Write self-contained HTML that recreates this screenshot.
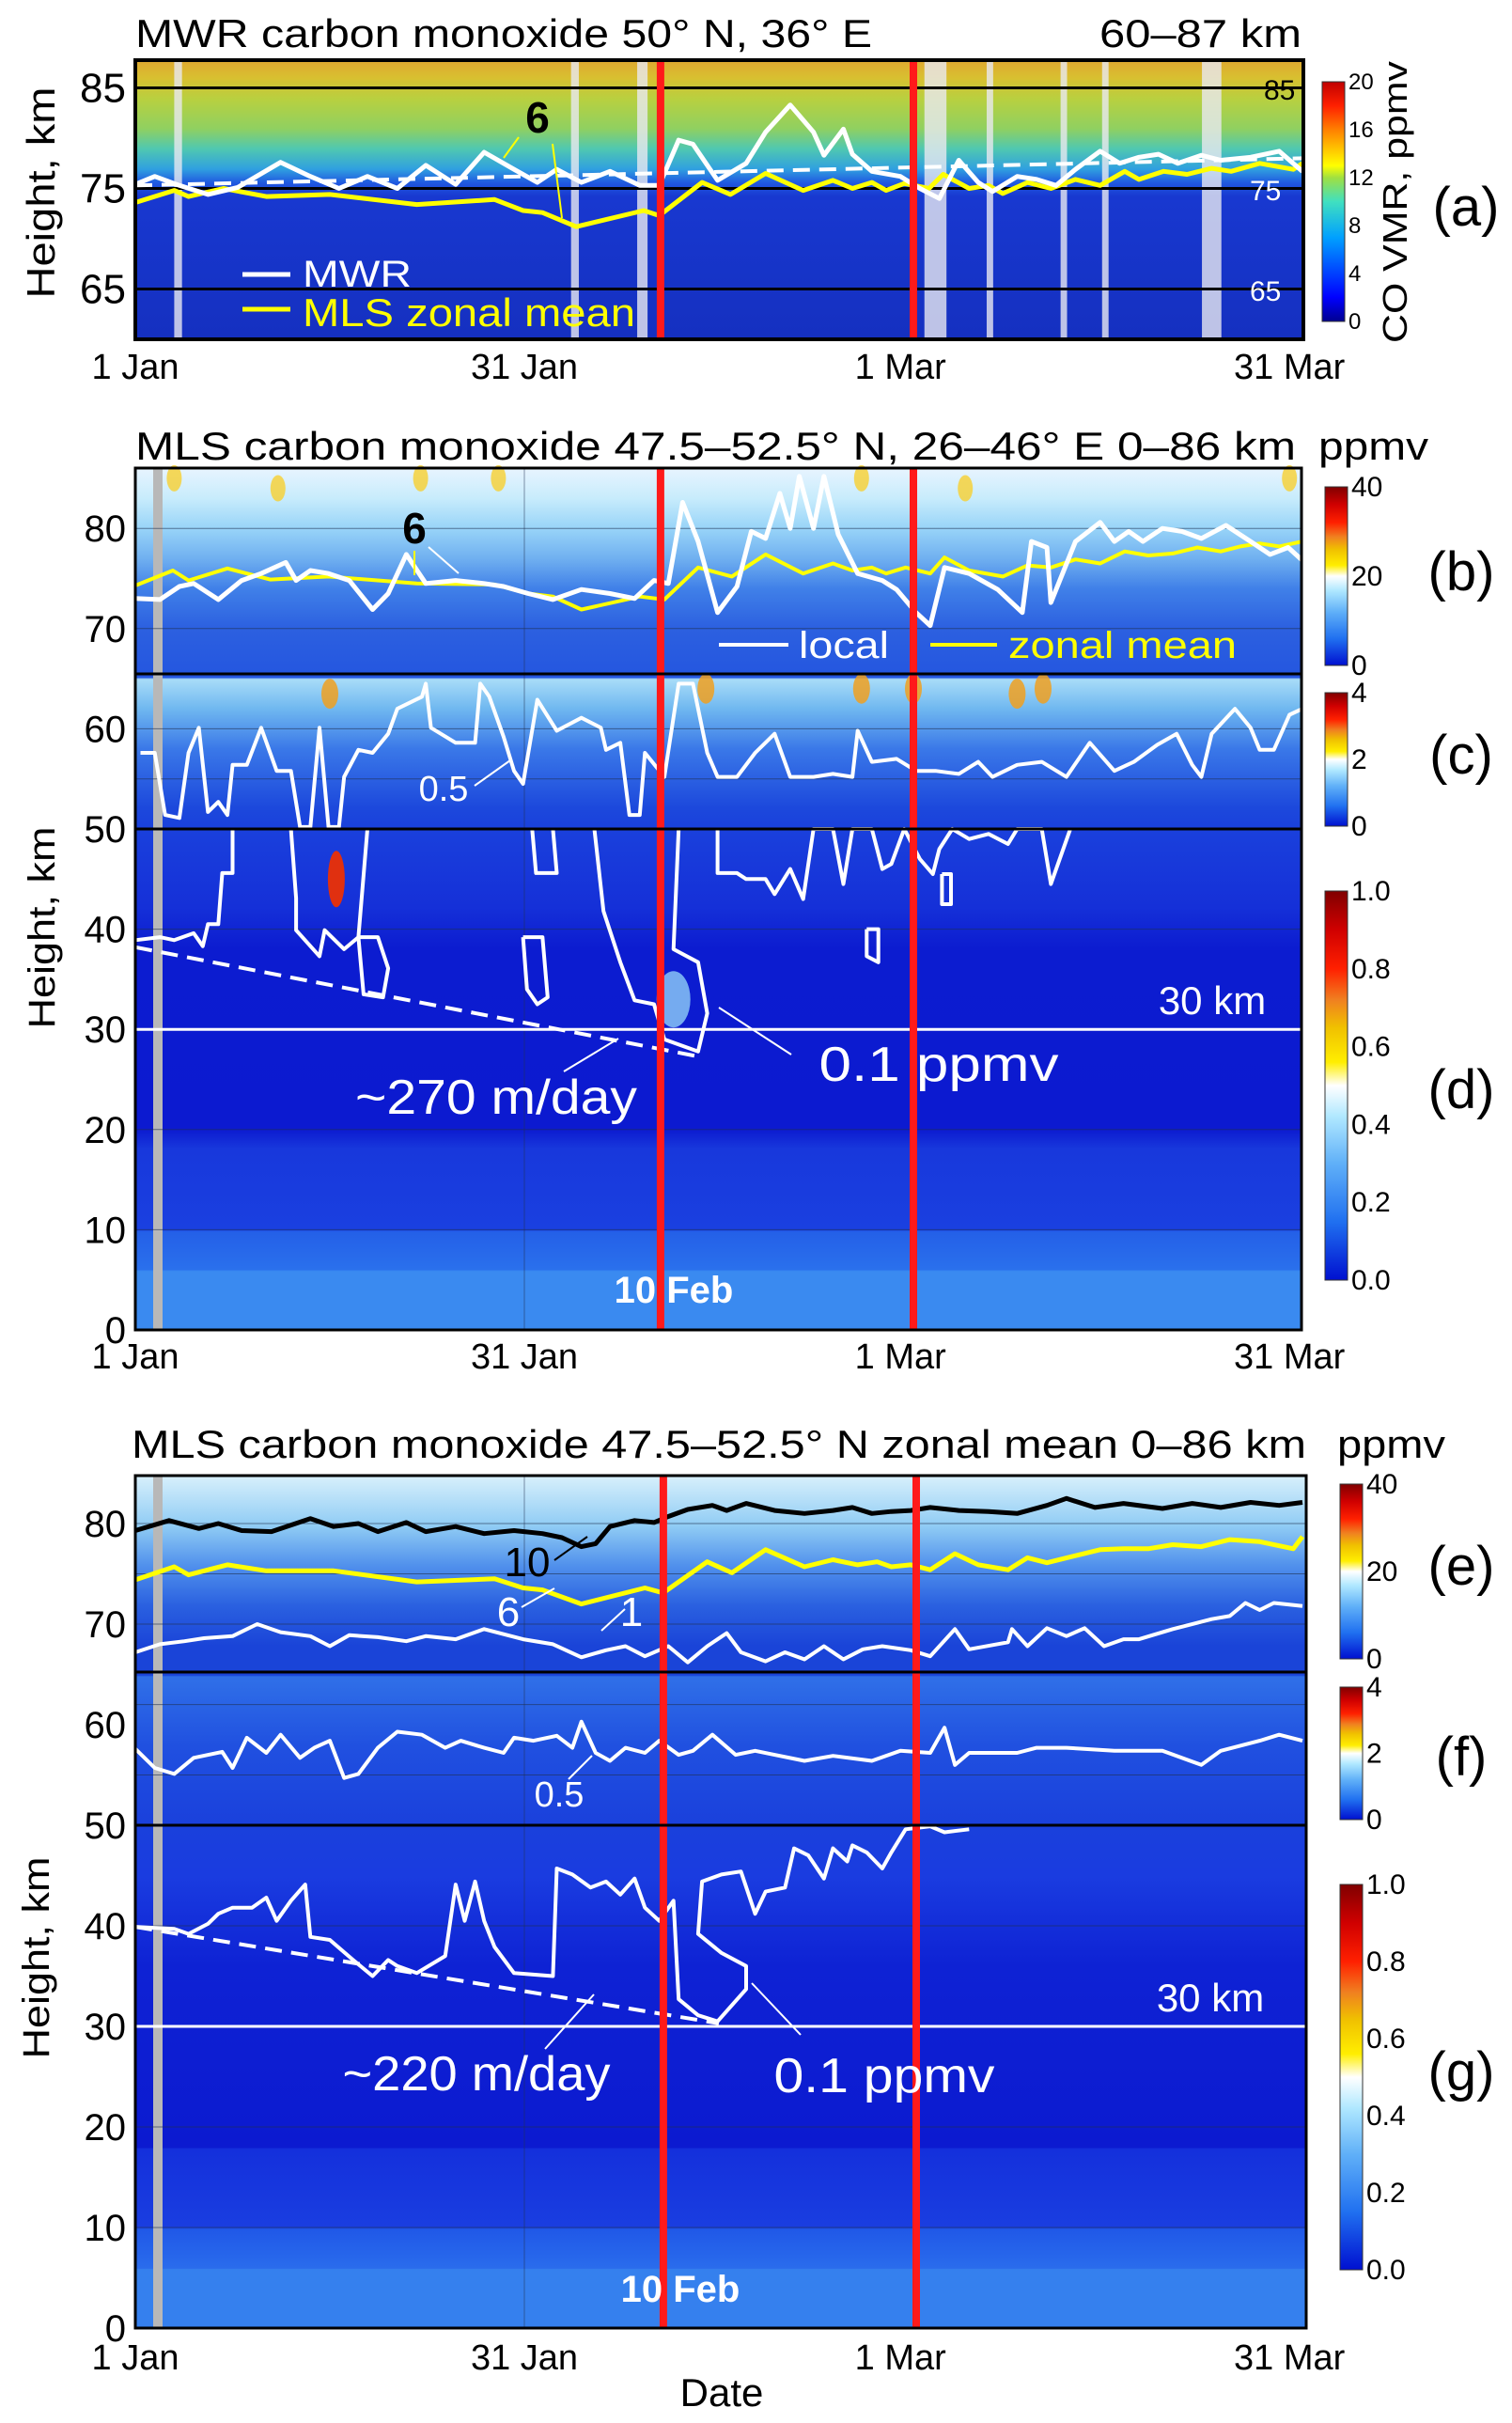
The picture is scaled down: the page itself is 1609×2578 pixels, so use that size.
<!DOCTYPE html>
<html><head><meta charset="utf-8">
<style>
html,body{margin:0;padding:0;background:#fff;}
svg{display:block;}
text{font-family:"Liberation Sans Narrow","Liberation Sans",sans-serif;}
.w{font-family:"Liberation Sans",sans-serif;}
</style></head>
<body>
<svg id="fig" width="1609" height="2578" viewBox="0 0 1609 2578" xmlns="http://www.w3.org/2000/svg">
<defs>
<linearGradient id="gA" x1="0" y1="0" x2="0" y2="1">
<stop offset="0" stop-color="#e0a830"/><stop offset="0.065" stop-color="#d8c030"/><stop offset="0.14" stop-color="#b8d040"/><stop offset="0.245" stop-color="#90d060"/><stop offset="0.317" stop-color="#50c8b0"/><stop offset="0.39" stop-color="#30a0e0"/><stop offset="0.44" stop-color="#2058e0"/><stop offset="0.49" stop-color="#1838d0"/><stop offset="1" stop-color="#1530c0"/>
</linearGradient>
<linearGradient id="gBD" x1="0" y1="0" x2="0" y2="1">
<stop offset="0" stop-color="#e8f4ff"/><stop offset="0.035" stop-color="#c8ecfc"/><stop offset="0.07" stop-color="#98d4f8"/><stop offset="0.105" stop-color="#70b0f0"/><stop offset="0.14" stop-color="#4080e8"/><stop offset="0.186" stop-color="#2c60e0"/><stop offset="0.243" stop-color="#2456e0"/><stop offset="0.245" stop-color="#a8dcf8"/><stop offset="0.279" stop-color="#70b8f0"/><stop offset="0.326" stop-color="#3a78e8"/><stop offset="0.395" stop-color="#1c48dc"/><stop offset="0.42" stop-color="#1a40dc"/><stop offset="0.51" stop-color="#1530d8"/><stop offset="0.558" stop-color="#0c1cd0"/><stop offset="0.767" stop-color="#0c1ad0"/><stop offset="0.79" stop-color="#1838dc"/><stop offset="0.884" stop-color="#1a40e0"/><stop offset="0.886" stop-color="#2460e8"/><stop offset="0.93" stop-color="#2a70ec"/><stop offset="0.932" stop-color="#3a8af0"/><stop offset="1" stop-color="#3a8af0"/>
</linearGradient>
<linearGradient id="gEG" x1="0" y1="0" x2="0" y2="1">
<stop offset="0" stop-color="#d8f0fc"/><stop offset="0.059" stop-color="#90ccf4"/><stop offset="0.106" stop-color="#5090ec"/><stop offset="0.153" stop-color="#2a60e0"/><stop offset="0.2" stop-color="#1a44d8"/><stop offset="0.234" stop-color="#1a44d8"/><stop offset="0.236" stop-color="#3070e8"/><stop offset="0.318" stop-color="#2050e0"/><stop offset="0.412" stop-color="#1a40dc"/><stop offset="0.47" stop-color="#1a3ce0"/><stop offset="0.576" stop-color="#0e22d4"/><stop offset="0.788" stop-color="#0c1ad0"/><stop offset="0.79" stop-color="#1430dc"/><stop offset="0.882" stop-color="#1a3ee0"/><stop offset="0.884" stop-color="#2058e8"/><stop offset="0.93" stop-color="#2a6cec"/><stop offset="0.931" stop-color="#3580ee"/><stop offset="1" stop-color="#3580ee"/>
</linearGradient>
<linearGradient id="cbJet" x1="0" y1="1" x2="0" y2="0">
<stop offset="0" stop-color="#000090"/><stop offset="0.1" stop-color="#0000ff"/><stop offset="0.35" stop-color="#00a0ff"/><stop offset="0.5" stop-color="#40e0c0"/><stop offset="0.6" stop-color="#a0e040"/><stop offset="0.65" stop-color="#ffff00"/><stop offset="0.8" stop-color="#ff8000"/><stop offset="0.9" stop-color="#ff2000"/><stop offset="1" stop-color="#c00000"/>
</linearGradient>
<linearGradient id="cbW" x1="0" y1="1" x2="0" y2="0">
<stop offset="0" stop-color="#0010d0"/><stop offset="0.15" stop-color="#2070f0"/><stop offset="0.3" stop-color="#60b0f8"/><stop offset="0.42" stop-color="#b0e8ff"/><stop offset="0.5" stop-color="#ffffff"/><stop offset="0.56" stop-color="#ffee00"/><stop offset="0.65" stop-color="#f0c000"/><stop offset="0.72" stop-color="#f08020"/><stop offset="0.8" stop-color="#ff2000"/><stop offset="0.9" stop-color="#d00000"/><stop offset="1" stop-color="#800000"/>
</linearGradient>
</defs>
<g id="layer"></g>
</svg>
<script>
// ---------- data (day of year from 1 Jan = 0, height km) ----------
const tickDays = [0, 30, 59, 89];
const tickLabels = ["1 Jan", "31 Jan", "1 Mar", "31 Mar"];
const redDays = [40.5, 60];
const aStripeDays = [3.3, 33.9, 39.1, 61.7, 65.9, 71.6, 74.8, 83];
const aStripeSpan = [0.6, 0.6, 0.8, 1.7, 0.5, 0.5, 0.5, 1.5];
const aMwrDay = [0,1.5,3.4,5.6,7.9,11.2,13.5,15.7,17.9,20.2,22.4,24.7,26.9,29.2,31,32.5,34.4,36.6,38.9,40.4,41.9,43,44.9,47.1,48.6,50.5,52.3,53.1,54.6,55.3,56.8,59,60.5,62,63.5,65,66.1,68,69.5,71,72.5,74.4,75.9,77.4,78.9,80.4,82.2,83.7,86,88.2,90];
const aMwrKm = [75.4,76.2,75.3,74.4,75.1,77.6,76.2,75,76.2,75,77.3,75.4,78.6,76.9,75.6,76.9,75.6,76.7,75.3,75.3,79.8,79.4,75.8,77.5,80.6,83.3,80.6,78.3,80.9,78.4,76.7,76.2,75,74,77.8,75.6,74.7,76.2,75.9,75.3,76.9,78.7,77.5,78.1,78.4,77.5,78.3,77.8,78.1,78.7,76.7];
const aMlsDay = [0,3,4.1,6.8,10.1,15,21.7,27.7,29.9,31.4,34,39.2,40.4,43.7,45.9,48.6,51.5,53.8,55.3,56.8,57.9,59.3,61.2,62.3,64.3,65.8,66.9,68.8,70.6,72.5,74.4,76.3,77.4,79.3,81.1,83,84.5,86.7,89.3,90];
const aMlsKm = [73.6,74.8,74.2,75,74.2,74.4,73.4,73.9,72.8,72.6,71.2,72.8,72.3,75.6,74.4,76.5,74.8,75.8,75,75.6,74.8,75.5,75,76.4,75,75.3,74.5,75.6,75,75.9,75.3,76.7,75.9,76.7,76.4,77,76.7,77.5,76.9,77.5];
const aDashDay = [0, 90];
const aDashKm = [75.3, 78.0];

const bLocalDay = [0,1.9,3.4,4.5,6.4,8.2,9.7,11.6,12.4,13.5,14.9,16.5,18.3,19.5,20.9,22.4,24.7,26.9,28.4,30.3,32.2,34.4,36.6,38.5,40,41.1,42.2,43.4,44.9,46.4,47.5,48.6,49.7,50.5,51.2,52.3,53.1,54.2,55.7,57.6,58.7,60.2,61.3,62.4,64.3,66.5,68.4,69.1,70.3,70.6,72.5,74.4,75.5,76.6,77.7,79.2,80.7,82.2,84.1,86,87.5,88.9,90];
const bLocalKm = [73,72.9,74.2,74.5,72.9,74.8,75.5,76.6,74.8,75.8,75.5,74.8,71.9,73.5,77.4,74.5,74.8,74.5,74.2,73.5,72.9,73.9,73.5,73,74.8,74.5,82.6,78.7,71.6,74.2,79.7,79,83.5,80,85.2,80,85.2,79.4,75.5,74.8,73.9,71.6,70.3,76.1,75.5,73.9,71.6,78.7,78.1,72.6,78.7,80.6,78.7,79.7,78.7,80,79.7,79,80.3,78.7,77.4,78.1,76.8];
const bZonalDay = [0,2.9,4.1,7.1,10.4,14.9,21.7,27.7,30.3,32.2,34.4,38.9,40.8,43.4,46,48.6,51.5,53.8,55.3,56.8,57.9,59.4,61.3,62.4,64.3,66.9,68.8,70.6,72.5,74.4,76.3,78.1,80,81.9,83.7,85.2,86.7,88.2,90];
const bZonalKm = [74.3,75.8,74.8,76,74.9,75.2,74.5,74.4,73.5,73.2,71.9,73.2,72.9,76.1,75.2,77.4,75.5,76.5,75.8,76.1,75.5,76.1,75.5,77.1,75.8,75.2,76.3,76.1,76.9,76.5,77.7,77.3,77.5,78.1,77.7,78.2,78.5,78.2,78.7];

const cContDay = [0.4,1.5,2.3,3.4,4.1,4.9,5.6,6.4,7.1,7.5,8.6,9.7,10.9,12,12.7,13.5,14.2,14.9,15.7,16.1,17.2,18.3,19.5,20.2,22.1,22.4,22.8,24.7,26.2,26.6,27.3,28.4,29.2,29.9,31,32.5,34.4,35.9,36.3,37.4,38.1,38.9,39.3,40.8,41.9,43,44.1,44.9,46.4,47.8,49.3,50.5,52.3,53.8,55.3,55.7,56.8,58.7,60.2,61.7,63.5,65,66.1,68,69.9,71.8,73.6,75.5,77,78.8,80.3,81.5,82.2,83,84.8,86,86.7,87.8,89,90];
const cContKm = [57.6,57.6,51.4,51.1,57.6,60.1,51.7,52.7,51.4,56.4,56.4,60.1,55.8,55.8,50.2,50.2,60.1,50.2,50.2,55.2,57.9,57.6,59.5,62,63.2,64.5,60.1,58.6,58.6,64.5,63.2,59.2,55.8,54.5,62.9,59.8,61.1,60.1,57.9,58.6,51.4,51.4,57.6,55.2,64.5,64.5,57.6,55.2,55.2,57.6,59.5,55.2,55.2,55.5,55.2,59.8,56.7,57,55.8,55.8,55.5,56.7,55.2,56.4,56.7,55.2,58.6,55.8,56.7,58.4,59.5,56.4,55.2,59.5,62,60.1,57.9,57.9,61.4,62];

const d1Day = [0,1.9,3,4.5,5.2,5.6,6.4,6.7,7.5,7.5];
const d1Km = [38.9,39.2,38.9,39.6,38.3,40.5,40.5,45.6,45.6,50];
const d2Day = [12,12.4,12.4,14.2,14.6,16.1,17.2,17.9];
const d2Km = [50,43.1,39.9,37.3,39.9,38,39.2,50];
const d3Day = [17.2,17.6,19.1,19.5,18.7,17.2];
const d3Km = [39.2,33.5,33.2,36.1,39.2,39.2];
const d4Day = [30.6,30.9,32.5,32.2];
const d4Km = [50,45.6,45.6,50];
const d5Day = [29.9,30.2,31,31.8,31.4,29.9];
const d5Km = [39.2,34,32.5,33.2,39.2,39.2];
const d6Day = [35.4,36.1,37.4,38.5,40,40.8,43.4,44.1,43.4,41.5,41.9];
const d6Km = [50,41.8,36.7,32.9,32.5,29,27.8,31.6,36.7,38,50];
const d7Day = [44.9,44.9,46.4,47.1,48.6,49.3,50.5,51.5,52.3,53.8,54.6,55.3,56.8,57.6,58.3,59.3,60.5,61.5,62,63,64.3,65.8,67.3,68,69.9,70.6,72.1];
const d7Km = [50,45.6,45.6,45,45,43.5,46,43,50,50,44.5,50,50,46,46.5,50,47,45.5,48,50,49,49.5,48.5,50,50,44.5,50];
const d8Day = [56.4,56.4,57.3,57.3,56.4];
const d8Km = [40,37.3,36.7,40,40];
const d9Day = [62.2,62.2,62.9,62.9,62.2];
const d9Km = [45.5,42.5,42.5,45.5,45.5];
const dDashDay = [0, 43.4];
const dDashKm = [38.2, 27.3];

const eTenDay = [0,2.6,4.9,6.4,8.2,10.5,13.5,15.3,17.2,18.7,20.9,22.4,24.7,26.9,29.2,31.4,32.9,34.4,35.5,36.6,38.5,40,41.1,42.6,44.5,45.6,47.1,49.3,51.6,53.8,55.3,56.8,58.3,59.8,61.3,63.5,65.8,68,70.3,71.8,74,76.2,79.2,81.5,83.7,86,88.2,90];
const eTenKm = [79.3,80.3,79.5,80,79.3,79.2,80.5,79.7,80,79.2,80.1,79.2,79.7,79,79.3,79,78.6,77.7,78,79.7,80.3,80.1,80.7,81.4,81.8,81.3,82,81.3,81,81.3,81.6,81,81.2,81.3,81.6,81.3,81.2,81,81.8,82.5,81.6,82,81.5,82,81.6,82.1,81.8,82.1];
const eSixDay = [0,3,4.1,7.1,10.1,15.3,21.7,27.7,29.9,31.4,34.4,39.3,40.7,44.1,46,48.6,51.6,53.8,55.7,57.2,58.3,59.8,61.3,63.2,65,67.3,68.8,70.3,72.5,74.4,76.2,78.1,80,82.2,84.4,86.7,89.3,90];
const eSixKm = [74.4,75.7,74.9,75.9,75.3,75.3,74.2,74.5,73.6,73.4,72,73.6,73.1,76.2,75.1,77.4,75.7,76.4,75.9,76.2,75.7,75.9,75.4,77,75.9,75.4,76.6,76.1,76.8,77.4,77.5,77.5,77.9,77.7,78.4,78.2,77.5,78.7];
const eOneDay = [0,1.9,3.8,5.3,7.5,9.4,11.2,13.5,15,16.5,18.7,20.9,22.4,24.7,26.9,29.9,32.2,34.4,36.3,37.8,39.3,41.1,42.6,44.1,45.6,46.7,48.6,50.1,51.6,53.1,54.6,56.1,57.6,59.8,61.3,63.2,64.3,67.3,67.6,68.8,70.3,71.8,73.2,74.7,76.2,77.4,80,83,84.4,85.6,86.7,87.8,90];
const eOneKm = [67.2,68,68.3,68.6,68.8,70,69.2,68.8,67.8,68.9,68.7,68.3,68.8,68.5,69.5,68.5,68,66.7,67.4,67.8,66.8,67.8,66.2,67.8,69.1,67.2,66.3,67.2,66.5,67.8,66.5,67.5,67.8,67.4,66.8,69.5,67.5,68.2,69.5,67.8,69.6,68.8,69.6,67.8,68.5,68.5,69.5,70.5,70.8,72.1,71.4,72.1,71.8];

const fDay = [0,1.5,3,4.5,6.7,7.5,8.6,10.1,11.2,12.7,13.8,15,16.1,17.2,18.7,20.2,22.1,23.9,25.1,26.9,28.4,29.2,30.7,32.5,33.7,34.4,35.5,36.6,37.8,39.3,40.4,41.9,43,44.5,46.3,47.8,49.3,51.6,53.8,56.8,59,61.3,62.4,63.2,64.3,68,69.5,71.8,75.5,79.2,82.2,83.7,86.7,88.2,90];
const fKm = [57.6,55.7,55.1,56.7,57.3,55.7,58.7,57.2,59,56.7,57.7,58.4,54.7,55.1,57.7,59.3,59,57.7,58.4,57.7,57.2,58.7,58.4,58.9,57.7,60.3,57.2,56.4,57.7,57.2,58.4,57,57.4,59,57,57.4,57,56.4,56.9,56.4,57.4,57.2,59.7,56,57.2,57.2,57.7,57.7,57.4,57.4,56,57.4,58.4,59,58.4];

const gDay = [0,3,4.1,5.6,6.4,7.5,9,10.1,10.9,12,13.1,13.5,15,16.8,18.3,19.5,20.2,21.7,23.9,24.7,25.4,26.2,26.9,27.7,29.2,32.2,32.5,33.7,35.1,36.3,37.4,38.5,39.3,40.4,41.5,41.9,43.4,44.9,47.1,47.1,45.2,43.4,43.7,45.2,46.7,47.8,48.6,50.1,50.8,51.9,53.1,53.8,54.9,55.3,56.4,57.6,58.3,59.4,61.3,62.4,64.3];
const gKm = [39.9,39.7,39.2,40.2,41.2,41.8,41.8,42.8,40.5,42.5,44.1,38.9,38.6,36.6,35,36.6,36,35.3,37,44.1,40.5,44.4,40.5,37.9,35.3,35,45.7,45.1,43.8,44.4,43.1,44.7,41.8,40.5,42.5,32.7,31.1,30.5,33.7,36,37.3,39.2,44.4,45.1,45.4,41.2,43.4,43.8,47.7,47,44.7,47.7,46.4,48,47.3,45.7,47.3,49.6,49.9,49.3,49.6];
const gDashDay = [0, 45];
const gDashKm = [39.9, 30.3];

// ---------- scales ----------
const NS = "http://www.w3.org/2000/svg";
const layer = document.getElementById("layer");
const X0 = 144, PXD = 13.8;
function xS(d){ return X0 + d*PXD; }
function yA(k){ return 361 - (k-60)*10.7; }
function yBD(k){ return 1415 - k*10.66; }
function yEG(k){ return 2477 - k*10.7; }
function el(tag, attrs, parent){
  const e = document.createElementNS(NS, tag);
  for (const k in attrs) e.setAttribute(k, attrs[k]);
  (parent||layer).appendChild(e);
  return e;
}
function txt(str, attrs, parent){ const t = el("text", attrs, parent); t.textContent = str; return t; }
function pts(days, kms, ys){ return days.map((d,i)=> xS(d).toFixed(1)+","+ys(kms[i]).toFixed(1)).join(" "); }
function line(days, kms, ys, stroke, w, name, dash){
  const p = el("polyline", {points: pts(days,kms,ys), fill:"none", stroke:stroke, "stroke-width":w, "stroke-linejoin":"round"});
  if (dash) p.setAttribute("stroke-dasharray", dash);
  
  
  return p;
}

// ---------- panel (a) ----------
let r = el("rect", {x:144, y:64, width:1243, height:297, fill:"url(#gA)"});


aStripeDays.forEach((d,i)=>{
  const w = aStripeSpan[i]*PXD;
  const s = el("rect", {x:xS(d)-w/2, y:64, width:w, height:297, fill:"#e8e8f0", opacity:0.8});
  
  
});
[85,75,65].forEach(k=>{
  const l = el("line", {x1:144, x2:1387, y1:yA(k), y2:yA(k), stroke:"#000", "stroke-width":3});
  
  
});
line(aDashDay, aDashKm, yA, "#fff", 4, "mwr-mean-dashed", "18,10");
line(aMlsDay, aMlsKm, yA, "#ffff00", 5, "mls-zonal-mean-line");
line(aMwrDay, aMwrKm, yA, "#fff", 5, "mwr-line");
redDays.forEach(d=>{ const l=el("line",{x1:xS(d),x2:xS(d),y1:64,y2:361,stroke:"#ff1a1a","stroke-width":8});   });
r = el("rect",{x:144,y:64,width:1243,height:297,fill:"none",stroke:"#000","stroke-width":4});
 

// ---------- panels (b,c,d) ----------
r = el("rect", {x:144, y:498, width:1241, height:917, fill:"url(#gBD)"});


[[3,85],[11,84],[22,85],[28,85],[56,85],[64,84],[89,85]].forEach(h=>{
  const e=el("ellipse",{cx:xS(h[0]),cy:yBD(h[1]),rx:8,ry:14,fill:"#f8d030",opacity:0.8});
   
});
[[15,63.5],[44,64],[56,64],[60,64],[68,63.5],[70,64]].forEach(h=>{
  const e=el("ellipse",{cx:xS(h[0]),cy:yBD(h[1]),rx:9,ry:16,fill:"#f0a020",opacity:0.85});
   
});
let hs=el("ellipse",{cx:xS(15.5),cy:yBD(45),rx:9,ry:30,fill:"#e03010"});  
hs=el("ellipse",{cx:xS(41.5),cy:yBD(33),rx:18,ry:30,fill:"#90d0f8",opacity:0.8});  
let gb=el("rect",{x:163,y:498,width:10,height:917,fill:"#b8b8b8"});  
[80,70,60,55,40,30,20,10].forEach(k=>{
  const l=el("line",{x1:144,x2:1385,y1:yBD(k),y2:yBD(k),stroke:"#203050","stroke-width":1,opacity:0.6});
   
});
let gl=el("line",{x1:xS(30),x2:xS(30),y1:498,y2:1415,stroke:"#203050","stroke-width":1,opacity:0.5});  
r=el("line",{x1:144,x2:1385,y1:yBD(30),y2:yBD(30),stroke:"#fff","stroke-width":3});  
line(bZonalDay, bZonalKm, yBD, "#ffff00", 4, "zonal-mean-6ppmv-line");
line(bLocalDay, bLocalKm, yBD, "#fff", 5, "local-6ppmv-line");
line(cContDay, cContKm, yBD, "#fff", 4, "contour-0.5ppmv");
[[d1Day,d1Km],[d2Day,d2Km],[d3Day,d3Km],[d4Day,d4Km],[d5Day,d5Km],[d6Day,d6Km],[d7Day,d7Km],[d8Day,d8Km],[d9Day,d9Km]].forEach(c=> line(c[0], c[1], yBD, "#fff", 4, "contour-0.1ppmv"));
line(dDashDay, dDashKm, yBD, "#fff", 4, "descent-rate-dashed", "18,10");
redDays.forEach(d=>{ const l=el("line",{x1:xS(d),x2:xS(d),y1:498,y2:1415,stroke:"#ff1a1a","stroke-width":8});   });
[[498,219],[717,165],[882,533]].forEach(p=>{ const f=el("rect",{x:144,y:p[0],width:1241,height:p[1],fill:"none",stroke:"#000","stroke-width":3});   });

// ---------- panels (e,f,g) ----------
r = el("rect", {x:144, y:1570, width:1246, height:907, fill:"url(#gEG)"});


gb=el("rect",{x:163,y:1570,width:10,height:907,fill:"#b8b8b8"});  
[80,75,70,62,55,40,30,20,10].forEach(k=>{
  const l=el("line",{x1:144,x2:1390,y1:yEG(k),y2:yEG(k),stroke:"#203050","stroke-width":1,opacity:0.6});
   
});
gl=el("line",{x1:xS(30),x2:xS(30),y1:1570,y2:2477,stroke:"#203050","stroke-width":1,opacity:0.5});  
r=el("line",{x1:144,x2:1390,y1:yEG(30),y2:yEG(30),stroke:"#fff","stroke-width":3});  
line(eTenDay, eTenKm, yEG, "#000", 5, "contour-10ppmv");
line(eSixDay, eSixKm, yEG, "#ffff00", 5, "contour-6ppmv");
line(eOneDay, eOneKm, yEG, "#fff", 4, "contour-1ppmv");
line(fDay, fKm, yEG, "#fff", 4, "contour-0.5ppmv");
line(gDay, gKm, yEG, "#fff", 4, "contour-0.1ppmv");
line(gDashDay, gDashKm, yEG, "#fff", 4, "descent-rate-dashed", "18,10");
redDays.forEach(d=>{ const l=el("line",{x1:xS(d)+3,x2:xS(d)+3,y1:1570,y2:2477,stroke:"#ff1a1a","stroke-width":8});   });
[[1570,209],[1779,163],[1942,535]].forEach(p=>{ const f=el("rect",{x:144,y:p[0],width:1246,height:p[1],fill:"none",stroke:"#000","stroke-width":3});   });

// ---------- axis tick labels ----------
[[403,"a"],[1456,"d"],[2521,"g"]].forEach(p=>{
  tickDays.forEach((d,i)=>{
    const t=txt(tickLabels[i],{x:xS(d),y:p[0],"font-size":38,"text-anchor":"middle",fill:"#000"});
     
  });
});
const yTicksA=[85,75,65], yTicksBD=[80,70,60,50,40,30,20,10,0], yTicksEG=[80,70,60,50,40,30,20,10,0];
yTicksA.forEach(k=>{ const t=txt(String(k),{x:134,y:yA(k)+15,"font-size":44,"text-anchor":"end"});   });
yTicksBD.forEach(k=>{ const t=txt(String(k),{x:134,y:yBD(k)+14,"font-size":40,"text-anchor":"end"});   });
yTicksEG.forEach(k=>{ const t=txt(String(k),{x:134,y:yEG(k)+14,"font-size":40,"text-anchor":"end"});   });

// ---------- colorbars ----------
function cbar(x,y0,y1,grad,labels,name,fs){
  const b=el("rect",{x:x,y:y0,width:24,height:y1-y0,fill:grad,stroke:"#333","stroke-width":1});
   
  labels.forEach((s,i)=>{
    const yy=y1-(y1-y0)*i/(labels.length-1);
    const t=txt(s,{x:x+28,y:yy+fs/3,"font-size":fs,class:"w"});
     
  });
}
const cbA=["0","4","8","12","16","20"], cbB=["0","20","40"], cbC=["0","2","4"], cbD=["0.0","0.2","0.4","0.6","0.8","1.0"];
cbar(1407,87,342,"url(#cbJet)",cbA,"colorbar-a",24);
cbar(1410,518,708,"url(#cbW)",cbB,"colorbar-b",30);
cbar(1410,737,879,"url(#cbW)",cbC,"colorbar-c",30);
cbar(1410,948,1362,"url(#cbW)",cbD,"colorbar-d",30);
cbar(1426,1579,1765,"url(#cbW)",cbB,"colorbar-e",30);
cbar(1426,1795,1936,"url(#cbW)",cbC,"colorbar-f",30);
cbar(1426,2005,2415,"url(#cbW)",cbD,"colorbar-g",30);
</script>
<svg width="1609" height="2578" viewBox="0 0 1609 2578" style="position:absolute;left:0;top:0" xmlns="http://www.w3.org/2000/svg">
<g font-family="Liberation Sans Narrow, Liberation Sans, sans-serif">
<text x="144" y="50" font-size="42" textLength="784" lengthAdjust="spacingAndGlyphs">MWR carbon monoxide 50° N, 36° E</text>
<text x="1170" y="50" font-size="42" textLength="215" lengthAdjust="spacingAndGlyphs">60–87 km</text>
<text x="1345" y="106" font-size="30" fill="#000">85</text>
<text x="1330" y="213" font-size="30" fill="#fff">75</text>
<text x="1330" y="320" font-size="30" fill="#fff">65</text>
<text x="572" y="141" font-size="46" font-weight="bold" text-anchor="middle">6</text>
<line x1="552" y1="146" x2="536" y2="168" stroke="#ffff00" stroke-width="2"/>
<line x1="588" y1="153" x2="598" y2="232" stroke="#ffff00" stroke-width="2"/>
<line x1="258" y1="292" x2="309" y2="292" stroke="#fff" stroke-width="5"/>
<text x="322" y="305" font-size="40" fill="#fff" textLength="116" lengthAdjust="spacingAndGlyphs">MWR</text>
<line x1="258" y1="329" x2="309" y2="329" stroke="#ffff00" stroke-width="5"/>
<text x="322" y="347" font-size="42" fill="#ffff00" textLength="354" lengthAdjust="spacingAndGlyphs">MLS zonal mean</text>
<text transform="translate(58,205) rotate(-90)" font-size="42" text-anchor="middle" textLength="225" lengthAdjust="spacingAndGlyphs" font-family="Liberation Sans, sans-serif">Height, km</text>
<text transform="translate(1497,215) rotate(-90)" font-size="36" text-anchor="middle" textLength="300" lengthAdjust="spacingAndGlyphs" font-family="Liberation Sans, sans-serif">CO VMR, ppmv</text>
<text x="1560" y="240" font-size="58" text-anchor="middle" font-family="Liberation Sans, sans-serif">(a)</text>

<text x="144" y="489" font-size="42" textLength="1235" lengthAdjust="spacingAndGlyphs">MLS  carbon monoxide 47.5–52.5° N, 26–46° E   0–86 km</text>
<text x="1403" y="489" font-size="42" textLength="117" lengthAdjust="spacingAndGlyphs">ppmv</text>
<text x="441" y="578" font-size="46" font-weight="bold" text-anchor="middle">6</text>
<line x1="456" y1="582" x2="488" y2="610" stroke="#fff" stroke-width="2"/>
<line x1="441" y1="586" x2="441" y2="612" stroke="#ffff00" stroke-width="2"/>
<line x1="765" y1="686" x2="839" y2="686" stroke="#fff" stroke-width="4"/>
<text x="850" y="700" font-size="40" fill="#fff" textLength="96" lengthAdjust="spacingAndGlyphs">local</text>
<line x1="990" y1="686" x2="1061" y2="686" stroke="#ffff00" stroke-width="4"/>
<text x="1073" y="700" font-size="40" fill="#ffff00" textLength="243" lengthAdjust="spacingAndGlyphs">zonal mean</text>
<text x="472" y="852" font-size="38" fill="#fff" text-anchor="middle">0.5</text>
<line x1="505" y1="836" x2="543" y2="809" stroke="#fff" stroke-width="2"/>
<text x="1290" y="1079" font-size="42" fill="#fff" text-anchor="middle">30 km</text>
<text x="528" y="1185" font-size="52" fill="#fff" text-anchor="middle" textLength="300" lengthAdjust="spacingAndGlyphs">~270 m/day</text>
<line x1="600" y1="1140" x2="658" y2="1105" stroke="#fff" stroke-width="2"/>
<text x="999" y="1150" font-size="52" fill="#fff" text-anchor="middle" textLength="255" lengthAdjust="spacingAndGlyphs">0.1 ppmv</text>
<line x1="842" y1="1122" x2="765" y2="1072" stroke="#fff" stroke-width="2"/>
<text x="717" y="1386" font-size="40" fill="#fff" font-weight="bold" text-anchor="middle">10 Feb</text>
<text transform="translate(58,987) rotate(-90)" font-size="40" text-anchor="middle" textLength="215" lengthAdjust="spacingAndGlyphs" font-family="Liberation Sans, sans-serif">Height, km</text>
<text x="1555" y="628" font-size="58" text-anchor="middle" font-family="Liberation Sans, sans-serif">(b)</text>
<text x="1555" y="823" font-size="58" text-anchor="middle" font-family="Liberation Sans, sans-serif">(c)</text>
<text x="1555" y="1179" font-size="58" text-anchor="middle" font-family="Liberation Sans, sans-serif">(d)</text>

<text x="140" y="1551" font-size="42" textLength="1250" lengthAdjust="spacingAndGlyphs">MLS  carbon monoxide 47.5–52.5° N zonal mean  0–86 km</text>
<text x="1423" y="1551" font-size="42" textLength="115" lengthAdjust="spacingAndGlyphs">ppmv</text>
<text x="561" y="1677" font-size="44" text-anchor="middle">10</text>
<line x1="590" y1="1660" x2="625" y2="1635" stroke="#000" stroke-width="2"/>
<text x="541" y="1730" font-size="44" fill="#fff" text-anchor="middle">6</text>
<line x1="555" y1="1710" x2="590" y2="1690" stroke="#fff" stroke-width="2"/>
<text x="672" y="1730" font-size="44" fill="#fff" text-anchor="middle">1</text>
<line x1="640" y1="1735" x2="665" y2="1712" stroke="#fff" stroke-width="2"/>
<text x="595" y="1922" font-size="38" fill="#fff" text-anchor="middle">0.5</text>
<line x1="605" y1="1893" x2="630" y2="1868" stroke="#fff" stroke-width="2"/>
<text x="1288" y="2140" font-size="42" fill="#fff" text-anchor="middle">30 km</text>
<text x="507" y="2224" font-size="52" fill="#fff" text-anchor="middle" textLength="285" lengthAdjust="spacingAndGlyphs">~220 m/day</text>
<line x1="580" y1="2180" x2="632" y2="2122" stroke="#fff" stroke-width="2"/>
<text x="941" y="2226" font-size="52" fill="#fff" text-anchor="middle" textLength="235" lengthAdjust="spacingAndGlyphs">0.1 ppmv</text>
<line x1="852" y1="2165" x2="800" y2="2110" stroke="#fff" stroke-width="2"/>
<text x="724" y="2449" font-size="40" fill="#fff" font-weight="bold" text-anchor="middle">10 Feb</text>
<text transform="translate(52,2083) rotate(-90)" font-size="40" text-anchor="middle" textLength="215" lengthAdjust="spacingAndGlyphs" font-family="Liberation Sans, sans-serif">Height, km</text>
<text x="768" y="2560" font-size="42" text-anchor="middle">Date</text>
<text x="1555" y="1686" font-size="58" text-anchor="middle" font-family="Liberation Sans, sans-serif">(e)</text>
<text x="1555" y="1889" font-size="58" text-anchor="middle" font-family="Liberation Sans, sans-serif">(f)</text>
<text x="1555" y="2224" font-size="58" text-anchor="middle" font-family="Liberation Sans, sans-serif">(g)</text>
</g>
</svg>
</body></html>
